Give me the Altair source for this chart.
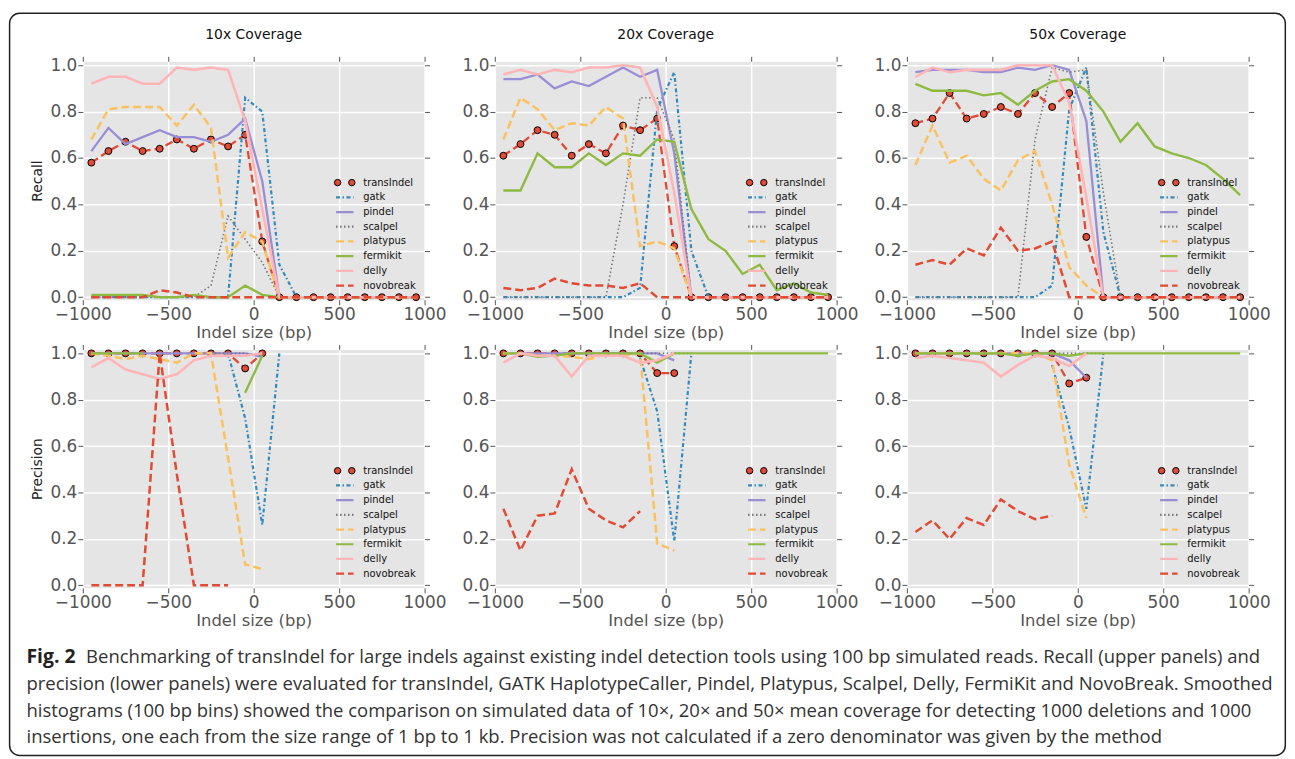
import altair as alt
import pandas as pd

N = None
F = "DejaVu Sans"
CF = "Open Sans"
bins = [-950, -850, -750, -650, -550, -450, -350, -250, -150, -50,
        50, 150, 250, 350, 450, 550, 650, 750, 850, 950]
tools = ["transIndel", "gatk", "pindel", "scalpel", "platypus", "fermikit", "delly", "novobreak"]

# ---------------- Recall, 10x ----------------
r10_transIndel = [0.58, 0.63, 0.67, 0.63, 0.64, 0.68, 0.64, 0.68, 0.65, 0.70, 0.24, 0, 0, 0, 0, 0, 0, 0, 0, 0]
r10_gatk       = [0, 0, 0, 0, 0, 0, 0, 0, 0, 0.86, 0.80, 0.14, 0, 0, 0, 0, 0, 0, 0, 0]
r10_pindel     = [0.63, 0.73, 0.66, 0.69, 0.72, 0.69, 0.69, 0.67, 0.70, 0.77, 0.50, 0, 0, 0, 0, 0, 0, 0, 0, 0]
r10_scalpel    = [0, 0, 0, 0, 0, 0, 0, 0.05, 0.35, 0.25, 0.15, 0, 0, 0, 0, 0, 0, 0, 0, 0]
r10_platypus   = [0.68, 0.81, 0.82, 0.82, 0.82, 0.74, 0.83, 0.73, 0.17, 0.28, 0.24, 0, 0, 0, 0, 0, 0, 0, 0, 0]
r10_fermikit   = [0.01, 0.01, 0.01, 0.01, 0.0, 0.0, 0.01, 0.0, 0.0, 0.05, 0.01, 0, 0, 0, 0, 0, 0, 0, 0, 0]
r10_delly      = [0.92, 0.95, 0.95, 0.92, 0.92, 0.99, 0.98, 0.99, 0.98, 0.76, 0.38, 0, 0, 0, 0, 0, 0, 0, 0, 0]
r10_novobreak  = [0, 0, 0, 0, 0.03, 0.02, 0, 0, 0, 0, 0, 0, 0, 0, 0, 0, 0, 0, 0, 0]

# ---------------- Recall, 20x ----------------
r20_transIndel = [0.61, 0.66, 0.72, 0.70, 0.61, 0.66, 0.62, 0.74, 0.72, 0.77, 0.22, 0, 0, 0, 0, 0, 0, 0, 0, 0]
r20_gatk       = [0, 0, 0, 0, 0, 0, 0, 0, 0.04, 0.81, 0.97, 0.20, 0, 0, 0, 0, 0, 0, 0, 0]
r20_pindel     = [0.94, 0.94, 0.96, 0.90, 0.93, 0.91, 0.95, 0.99, 0.95, 0.98, 0.62, 0, 0, 0, 0, 0, 0, 0, 0, 0]
r20_scalpel    = [0, 0, 0, 0, 0, 0, 0, 0.40, 0.86, 0.86, 0.68, 0, 0, 0, 0, 0, 0, 0, 0, 0]
r20_platypus   = [0.68, 0.86, 0.81, 0.72, 0.75, 0.74, 0.82, 0.77, 0.22, 0.24, 0.21, 0, 0, 0, 0, 0, 0, 0, 0, 0]
r20_fermikit   = [0.46, 0.46, 0.62, 0.56, 0.56, 0.62, 0.57, 0.62, 0.61, 0.68, 0.67, 0.38, 0.25, 0.20, 0.10, 0.14, 0.03, 0.06, 0.02, 0.01]
r20_delly      = [0.96, 0.98, 0.96, 0.98, 0.97, 0.99, 0.99, 1.0, 0.99, 0.82, 0.45, 0, 0, 0, 0, 0, 0, 0, 0, 0]
r20_novobreak  = [0.04, 0.03, 0.04, 0.08, 0.06, 0.05, 0.05, 0.04, 0.06, 0, 0, 0, 0, 0, 0, 0, 0, 0, 0, 0]

# ---------------- Recall, 50x ----------------
r50_transIndel = [0.75, 0.77, 0.88, 0.77, 0.79, 0.82, 0.79, 0.88, 0.82, 0.88, 0.26, 0, 0, 0, 0, 0, 0, 0, 0, 0]
r50_gatk       = [0, 0, 0, 0, 0, 0, 0, 0, 0.05, 0.81, 0.99, 0.28, 0, 0, 0, 0, 0, 0, 0, 0]
r50_pindel     = [0.97, 0.98, 0.98, 0.98, 0.97, 0.97, 0.99, 0.98, 1.0, 0.98, 0.76, 0, 0, 0, 0, 0, 0, 0, 0, 0]
r50_scalpel    = [0, 0, 0, 0, 0, 0, 0, 0.68, 0.99, 0.97, 0.98, 0.45, 0, 0, 0, 0, 0, 0, 0, 0]
r50_platypus   = [0.57, 0.74, 0.58, 0.61, 0.51, 0.46, 0.59, 0.63, 0.40, 0.13, 0.05, 0, 0, 0, 0, 0, 0, 0, 0, 0]
r50_fermikit   = [0.92, 0.89, 0.89, 0.89, 0.87, 0.88, 0.83, 0.89, 0.93, 0.94, 0.89, 0.80, 0.67, 0.75, 0.65, 0.62, 0.60, 0.57, 0.51, 0.44]
r50_delly      = [0.95, 0.99, 0.97, 0.98, 0.98, 0.98, 1.0, 1.0, 1.0, 0.84, 0.43, 0, 0, 0, 0, 0, 0, 0, 0, 0]
r50_novobreak  = [0.14, 0.16, 0.14, 0.21, 0.18, 0.30, 0.20, 0.21, 0.24, 0, 0, 0, 0, 0, 0, 0, 0, 0, 0, 0]

# ---------------- Precision, 10x (None = not calculated) ----------------
p10_transIndel = [1, 1, 1, 1, 1, 1, 1, 1, 1, 0.935, 1.0, N, N, N, N, N, N, N, N, N]
p10_gatk       = [N, N, N, N, N, N, N, N, 1.0, 0.72, 0.26, 1.0, N, N, N, N, N, N, N, N]
p10_pindel     = [1, 1, 1, 1, 1, 1, 1, 1, 1, 1, 0.985, N, N, N, N, N, N, N, N, N]
p10_scalpel    = [N, N, N, N, N, N, N, 1.0, 1.0, 1.0, 0.99, N, N, N, N, N, N, N, N, N]
p10_platypus   = [1.0, 0.99, 0.975, 0.99, 0.975, 0.96, 1.0, 1.0, 0.55, 0.09, 0.07, N, N, N, N, N, N, N, N, N]
p10_fermikit   = [1, 1, 1, 1, N, N, 1, N, N, 0.83, 0.99, N, N, N, N, N, N, N, N, N]
p10_delly      = [0.94, 0.98, 0.93, 0.91, 0.89, 0.91, 0.97, 0.99, 0.99, 0.99, 1.0, N, N, N, N, N, N, N, N, N]
p10_novobreak  = [0, 0, 0, 0, 1.0, 0.48, 0, 0, 0, N, N, N, N, N, N, N, N, N, N, N]

# ---------------- Precision, 20x ----------------
p20_transIndel = [1, 1, 1, 1, 1, 1, 1, 1, 1, 0.915, 0.915, N, N, N, N, N, N, N, N, N]
p20_gatk       = [N, N, N, N, N, N, N, N, 0.98, 0.75, 0.19, 1.0, N, N, N, N, N, N, N, N]
p20_pindel     = [1, 1, 1, 1, 1, 1, 1, 1, 1, 1, 0.97, N, N, N, N, N, N, N, N, N]
p20_scalpel    = [N, N, N, N, N, N, N, 1.0, 1.0, 1.0, 1.0, 1.0, N, N, N, N, N, N, N, N]
p20_platypus   = [1.0, 1.0, 0.99, 0.99, 0.985, 0.975, 0.995, 0.99, 1.0, 0.18, 0.15, N, N, N, N, N, N, N, N, N]
p20_fermikit   = [1.0, 1.0, 0.985, 0.99, 1, 1, 1, 1, 1.0, 0.96, 1.0, 1, 1, 1, 1, 1, 1, 1, 1, 1]
p20_delly      = [0.96, 1.0, 0.99, 0.99, 0.90, 0.99, 0.99, 0.99, 0.96, 0.97, 1.0, N, N, N, N, N, N, N, N, N]
p20_novobreak  = [0.33, 0.15, 0.30, 0.31, 0.50, 0.33, 0.28, 0.25, 0.32, N, N, N, N, N, N, N, N, N, N, N]

# ---------------- Precision, 50x ----------------
p50_transIndel = [1, 1, 1, 1, 1, 1, 1, 1, 1, 0.87, 0.895, N, N, N, N, N, N, N, N, N]
p50_gatk       = [N, N, N, N, N, N, N, N, 0.95, 0.68, 0.33, 1.0, N, N, N, N, N, N, N, N]
p50_pindel     = [1, 1, 1, 1, 1, 1, 1, 1, 1, 0.97, 0.895, N, N, N, N, N, N, N, N, N]
p50_scalpel    = [N, N, N, N, N, N, N, 1.0, 1.0, 1.0, 1.0, 1.0, N, N, N, N, N, N, N, N]
p50_platypus   = [1, 1, 1, 1, 1, 1, 1, 1, 0.97, 0.52, 0.29, N, N, N, N, N, N, N, N, N]
p50_fermikit   = [1, 1, 1, 1, 1, 1, 0.99, 1, 1, 0.99, 1, 1, 1, 1, 1, 1, 1, 1, 1, 1]
p50_delly      = [0.98, 0.99, 0.98, 0.97, 0.96, 0.90, 0.95, 0.99, 0.98, 0.945, 1.0, N, N, N, N, N, N, N, N, N]
p50_novobreak  = [0.23, 0.28, 0.20, 0.29, 0.26, 0.37, 0.32, 0.285, 0.30, N, N, N, N, N, N, N, N, N, N, N]

panel_titles = ["10x Coverage", "20x Coverage", "50x Coverage"]
caption_bold = "Fig. 2"
caption_lines = [
    "Benchmarking of transIndel for large indels against existing indel detection tools using 100 bp simulated reads. Recall (upper panels) and",
    "precision (lower panels) were evaluated for transIndel, GATK HaplotypeCaller, Pindel, Platypus, Scalpel, Delly, FermiKit and NovoBreak. Smoothed",
    "histograms (100 bp bins) showed the comparison on simulated data of 10\u00d7, 20\u00d7 and 50\u00d7 mean coverage for detecting 1000 deletions and 1000",
    "insertions, one each from the size range of 1 bp to 1 kb. Precision was not calculated if a zero denominator was given by the method",
]

g = globals()
panels = []
for metric in ["r", "p"]:
    for cov in [10, 20, 50]:
        panels.append((f"{metric}{cov}", {t: g[f"{metric}{cov}_{t}"] for t in tools}))

rows = []
for key, d in panels:
    for t, vals in d.items():
        seg = 0
        for x, v in zip(bins, vals):
            if v is None:
                seg += 1
                continue
            rows.append({"panel": key, "tool": t, "x": x, "v": v, "seg": seg})
df = pd.DataFrame(rows)

# styles (matplotlib ggplot look)
color = {"transIndel": "#E24A33", "gatk": "#348ABD", "pindel": "#988ED5", "scalpel": "#777777",
         "platypus": "#FBC15E", "fermikit": "#8EBA42", "delly": "#FFB5B8", "novobreak": "#E24A33"}
dash = {"transIndel": [8, 4], "gatk": [4, 2.5, 1.5, 2.5], "pindel": [1, 0], "scalpel": [1.5, 2.5],
        "platypus": [8, 4], "fermikit": [1, 0], "delly": [1, 0], "novobreak": [8, 4]}
lw = {"transIndel": 2.3, "gatk": 2.2, "pindel": 2.3, "scalpel": 1.6, "platypus": 2.5,
      "fermikit": 2.4, "delly": 2.6, "novobreak": 2.5}

W, H = 344, 240
xs = alt.Scale(domain=[-1000, 1000], nice=False, zero=False)
ys = alt.Scale(domain=[-0.011, 1.017], nice=False, zero=False)
GREY = "#555555"

# legend layout (in data units of each panel)
leg = pd.DataFrame({"tool": tools})
leg["ly"] = [0.494 - i * 0.0634 for i in range(len(tools))]
leg["lx1"] = 482
leg["lx2"] = 584
leg["lt"] = 641
leg["c1"] = 491
leg["c2"] = 574


def make_panel(idx, key):
    d = df[df.panel == key]
    base = alt.Chart(d)
    col = idx % 3
    row = idx // 3
    ytitle = None
    if col == 0:
        ytitle = "Recall" if row == 0 else "Precision"
    axes_layer = base.mark_point(opacity=0).encode(
        x=alt.X("x:Q", scale=xs, axis=alt.Axis(
            values=[-1000, -500, 0, 500, 1000], format="d", title="Indel size (bp)", titleFont=F,
            titleFontSize=16.5, titleFontWeight="normal", titleColor=GREY, titlePadding=2,
            labelFont=F, labelFontSize=17, labelColor=GREY, labelPadding=2, labelFlush=False,
            labelOverlap=False, tickSize=5, tickColor=GREY, tickWidth=1, grid=True,
            gridColor="white", gridWidth=1.5, domain=False)),
        y=alt.Y("v:Q", scale=ys, axis=alt.Axis(
            values=[0, 0.2, 0.4, 0.6, 0.8, 1.0], format=".1f", title=ytitle, titleFont=F,
            titleFontSize=14, titleFontWeight="normal", titleColor="#222", titlePadding=6,
            labelFont=F, labelFontSize=17, labelColor=GREY, labelPadding=1, labelFlush=False,
            labelOverlap=False, tickSize=5, tickColor=GREY, tickWidth=1, grid=True,
            gridColor="white", gridWidth=1.5, domain=False)),
    )
    tick_layer = base.mark_point(opacity=0).encode(
        x=alt.X("x:Q", scale=xs, axis=alt.Axis(
            orient="top", values=[-1000, -500, 0, 500, 1000], labels=False, title=None,
            grid=False, domain=False, tickSize=5, tickColor=GREY, tickWidth=1)),
        y=alt.Y("v:Q", scale=ys, axis=alt.Axis(
            orient="right", values=[0, 0.2, 0.4, 0.6, 0.8, 1.0], labels=False, title=None,
            grid=False, domain=False, tickSize=5, tickColor=GREY, tickWidth=1)),
    )
    layers = [axes_layer, tick_layer]
    for t in tools:
        sub = base.transform_filter(alt.datum.tool == t)
        kw = dict(color=color[t], strokeWidth=lw[t])
        if dash[t] != [1, 0]:
            kw["strokeDash"] = dash[t]
        layers.append(sub.mark_line(**kw).encode(
            x=alt.X("x:Q", scale=xs, axis=None),
            y=alt.Y("v:Q", scale=ys, axis=None),
            detail="seg:N"))
        if t == "transIndel":
            layers.append(sub.mark_point(shape="circle", filled=True, fill=color[t], stroke="black",
                                         strokeWidth=1, size=48, opacity=1).encode(
                x=alt.X("x:Q", scale=xs, axis=None),
                y=alt.Y("v:Q", scale=ys, axis=None)))
    lb = alt.Chart(leg)
    layers.append(lb.transform_filter(alt.datum.tool != "transIndel").mark_rule().encode(
        x=alt.X("lx1:Q", scale=xs, axis=None), x2="lx2:Q",
        y=alt.Y("ly:Q", scale=ys, axis=None),
        color=alt.Color("tool:N", scale=alt.Scale(domain=tools, range=[color[t] for t in tools]), legend=None),
        strokeDash=alt.StrokeDash("tool:N", scale=alt.Scale(domain=tools, range=[dash[t] for t in tools]), legend=None),
        strokeWidth=alt.StrokeWidth("tool:N", scale=alt.Scale(domain=tools, range=[lw[t] for t in tools]), legend=None),
    ))
    for cx in ["c1", "c2"]:
        layers.append(lb.transform_filter(alt.datum.tool == "transIndel").mark_point(
            shape="circle", filled=True, fill=color["transIndel"], stroke="black", strokeWidth=1,
            size=42, opacity=1).encode(
            x=alt.X(f"{cx}:Q", scale=xs, axis=None), y=alt.Y("ly:Q", scale=ys, axis=None)))
    layers.append(lb.mark_text(align="left", baseline="middle", font=F, fontSize=10, color="#111").encode(
        x=alt.X("lt:Q", scale=xs, axis=None), y=alt.Y("ly:Q", scale=ys, axis=None), text="tool:N"))
    ch = alt.layer(*layers).resolve_axis(x="independent", y="independent")
    if row == 0:
        ch = ch.properties(width=W, height=H, title=alt.TitleParams(
            panel_titles[col], font=F, fontSize=14, fontWeight="normal", color="#111",
            offset=14, anchor="middle"))
    else:
        ch = ch.properties(width=W, height=H)
    return ch


charts = [make_panel(i, key) for i, (key, _) in enumerate(panels)]

# caption with frame
CAP_H = 110
cap = pd.DataFrame({"line": [0, 1, 2, 3], "text": caption_lines})
one = pd.DataFrame({"k": [0]})
cy = alt.Scale(domain=[0, 3], range=[20, 100.3])
cap_bold = alt.Chart(one).mark_text(align="left", baseline="middle", font=CF, fontSize=19.5,
                                    fontWeight="bold", color="#222").encode(
    x=alt.value(-56.7), y=alt.value(20), text=alt.value(caption_bold))
cap_first = alt.Chart(cap).transform_filter(alt.datum.line == 0).mark_text(
    align="left", baseline="middle", font=CF, fontSize=18.6, color="#333").encode(
    x=alt.value(3.3), y=alt.Y("line:Q", scale=cy, axis=None), text="text:N")
cap_rest = alt.Chart(cap).transform_filter(alt.datum.line > 0).mark_text(
    align="left", baseline="middle", font=CF, fontSize=18.6, color="#333").encode(
    x=alt.value(-56.7), y=alt.Y("line:Q", scale=cy, axis=None), text="text:N")
frame = alt.Chart(one).mark_rect(filled=False, stroke="#222", strokeWidth=1.5, cornerRadius=10).encode(
    x=alt.value(-73.7), x2=alt.value(1210.3), y=alt.value(-628.3), y2=alt.value(118.7))
caption = alt.layer(cap_bold, cap_first, cap_rest, frame).properties(
    width=W, height=CAP_H, view=alt.ViewBackground(fill="white", stroke="transparent"))

chart = alt.concat(*charts, caption, columns=3, spacing=alt.RowColnumber(row=50, column=70.7),
                   bounds="flush").properties(
    padding={"left": 0.3, "top": 1.2, "right": 0, "bottom": 0},
    background="white",
).configure_view(fill="#E5E5E5", stroke="transparent")

chart.save("out.html", embed_options={"renderer": "svg", "actions": False})
